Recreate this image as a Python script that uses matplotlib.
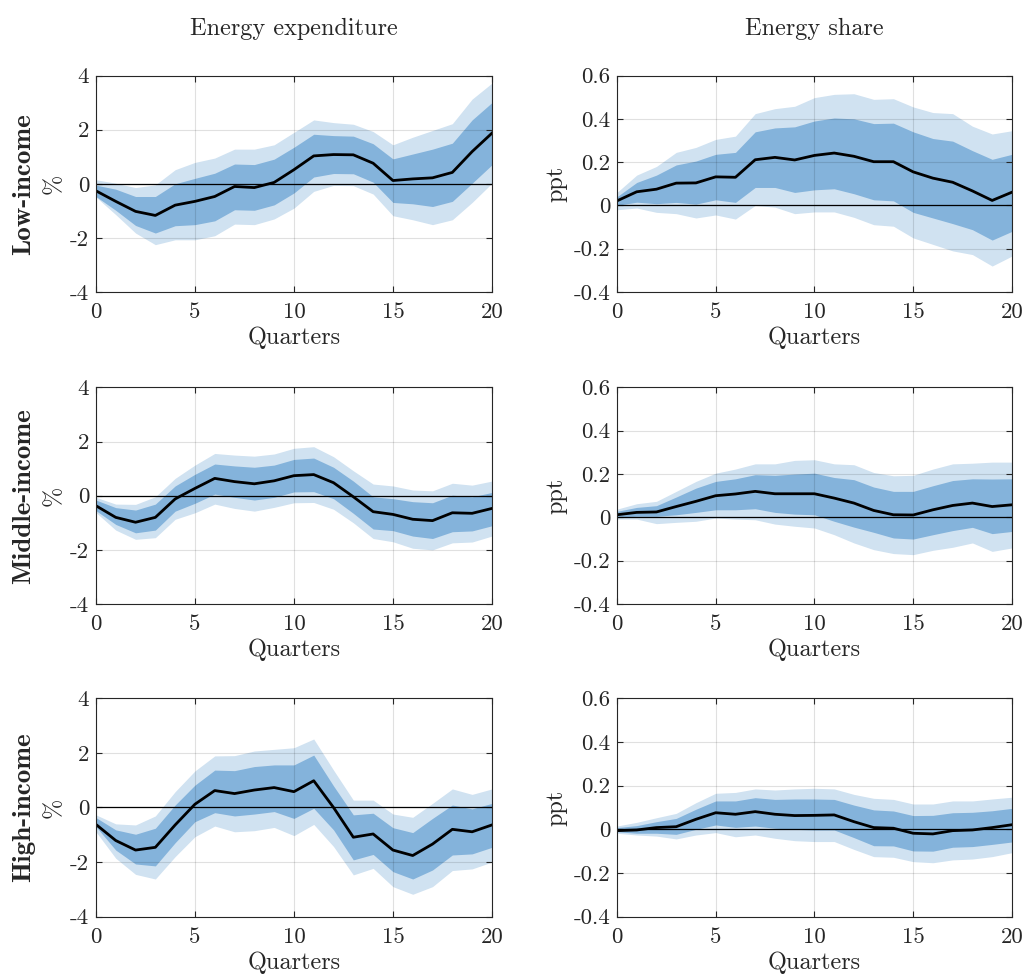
import numpy as np
import matplotlib
matplotlib.use("Agg")
import matplotlib.pyplot as plt

plt.rcParams['font.family'] = ['cmr10', 'DejaVu Serif']
plt.rcParams['axes.unicode_minus'] = False
plt.rcParams['mathtext.fontset'] = 'cm'

quarters = np.arange(21)

# energy expenditure (%), low / middle / high income
exp_low_med = [-0.26, -0.65, -1.02, -1.17, -0.79, -0.65, -0.47, -0.1, -0.14, 0.05, 0.52,
               1.03, 1.08, 1.07, 0.76, 0.12, 0.18, 0.22, 0.42, 1.19, 1.87]
exp_low_in_hi = [-0.05, -0.2, -0.47, -0.47, 0.0, 0.2, 0.39, 0.73, 0.71, 0.91, 1.35,
                 1.83, 1.78, 1.76, 1.48, 0.92, 1.1, 1.28, 1.5, 2.36, 3.0]
exp_low_in_lo = [-0.47, -0.98, -1.54, -1.82, -1.55, -1.51, -1.37, -0.96, -0.98, -0.78, -0.34,
                 0.25, 0.38, 0.37, 0.06, -0.69, -0.74, -0.84, -0.65, 0.02, 0.7]
exp_low_out_hi = [0.15, 0.02, -0.14, -0.04, 0.52, 0.79, 0.95, 1.28, 1.28, 1.44, 1.9,
                  2.36, 2.26, 2.2, 1.93, 1.44, 1.72, 1.97, 2.22, 3.13, 3.72]
exp_low_out_lo = [-0.49, -1.14, -1.82, -2.25, -2.07, -2.07, -1.92, -1.49, -1.51, -1.3, -0.9,
                  -0.28, -0.06, -0.07, -0.38, -1.18, -1.33, -1.51, -1.33, -0.69, 0.02]

exp_mid_med = [-0.37, -0.8, -0.98, -0.8, -0.12, 0.27, 0.64, 0.52, 0.44, 0.55, 0.74,
               0.78, 0.48, -0.04, -0.59, -0.69, -0.87, -0.92, -0.63, -0.65, -0.47]
exp_mid_in_hi = [-0.16, -0.44, -0.53, -0.31, 0.36, 0.79, 1.17, 1.1, 1.05, 1.13, 1.34,
                 1.39, 1.05, 0.54, -0.04, -0.11, -0.22, -0.26, 0.02, -0.04, 0.12]
exp_mid_in_lo = [-0.55, -1.06, -1.37, -1.27, -0.57, -0.28, 0.06, -0.06, -0.16, -0.06, 0.14,
                 0.15, -0.11, -0.65, -1.23, -1.29, -1.49, -1.58, -1.33, -1.3, -1.11]
exp_mid_out_hi = [-0.06, -0.31, -0.32, -0.04, 0.64, 1.13, 1.56, 1.5, 1.46, 1.54, 1.75,
                  1.81, 1.44, 0.92, 0.43, 0.36, 0.21, 0.18, 0.46, 0.39, 0.54]
exp_mid_out_lo = [-0.62, -1.27, -1.61, -1.55, -0.87, -0.63, -0.31, -0.47, -0.57, -0.43, -0.26,
                  -0.25, -0.5, -1.0, -1.58, -1.7, -1.94, -2.0, -1.74, -1.71, -1.49]

exp_high_med = [-0.62, -1.21, -1.56, -1.46, -0.64, 0.12, 0.62, 0.51, 0.64, 0.73, 0.58,
                0.98, 0.0, -1.09, -0.97, -1.56, -1.76, -1.34, -0.8, -0.89, -0.64]
exp_high_in_hi = [-0.37, -0.82, -0.98, -0.76, 0.09, 0.82, 1.37, 1.35, 1.5, 1.56, 1.56,
                  1.92, 0.79, -0.27, -0.21, -0.74, -0.92, -0.4, 0.09, -0.05, 0.15]
exp_high_in_lo = [-0.7, -1.56, -2.07, -2.14, -1.29, -0.52, -0.19, -0.31, -0.24, -0.15, -0.4,
                  -0.03, -0.82, -1.92, -1.72, -2.35, -2.62, -2.29, -1.74, -1.7, -1.46]
exp_high_out_hi = [-0.27, -0.6, -0.64, -0.31, 0.58, 1.34, 1.89, 1.9, 2.07, 2.13, 2.19,
                   2.51, 1.37, 0.27, 0.27, -0.24, -0.36, 0.15, 0.68, 0.48, 0.68]
exp_high_out_lo = [-0.89, -1.86, -2.45, -2.62, -1.8, -1.07, -0.68, -0.89, -0.85, -0.73, -1.03,
                   -0.62, -1.43, -2.47, -2.23, -2.9, -3.18, -2.9, -2.31, -2.25, -2.0]

# energy share (ppt)
sh_low_med = [0.021, 0.063, 0.075, 0.103, 0.104, 0.132, 0.13, 0.211, 0.222, 0.21, 0.231,
              0.242, 0.227, 0.202, 0.202, 0.155, 0.126, 0.107, 0.067, 0.023, 0.061]
sh_low_in_hi = [0.04, 0.106, 0.14, 0.187, 0.205, 0.236, 0.245, 0.34, 0.358, 0.363, 0.39,
                0.404, 0.4, 0.378, 0.38, 0.34, 0.309, 0.297, 0.253, 0.213, 0.236]
sh_low_in_lo = [0.0, 0.015, 0.008, 0.014, 0.006, 0.026, 0.014, 0.083, 0.083, 0.06, 0.072,
                0.077, 0.054, 0.026, 0.021, -0.032, -0.058, -0.084, -0.112, -0.16, -0.12]
sh_low_out_hi = [0.06, 0.14, 0.18, 0.245, 0.268, 0.305, 0.32, 0.424, 0.447, 0.458, 0.498,
                 0.513, 0.516, 0.49, 0.493, 0.455, 0.429, 0.424, 0.366, 0.33, 0.345]
sh_low_out_lo = [-0.02, -0.012, -0.032, -0.038, -0.058, -0.044, -0.063, 0.0, -0.008, -0.038, -0.03,
                 -0.03, -0.055, -0.089, -0.096, -0.15, -0.18, -0.21, -0.227, -0.28, -0.234]

sh_mid_med = [0.012, 0.023, 0.025, 0.05, 0.074, 0.1, 0.108, 0.12, 0.109, 0.109, 0.109,
              0.089, 0.066, 0.032, 0.012, 0.011, 0.035, 0.055, 0.066, 0.05, 0.058]
sh_mid_in_hi = [0.028, 0.046, 0.054, 0.094, 0.135, 0.166, 0.178, 0.197, 0.194, 0.2, 0.204,
                0.184, 0.174, 0.14, 0.12, 0.12, 0.146, 0.17, 0.178, 0.177, 0.178]
sh_mid_in_lo = [0.0, 0.005, 0.005, 0.012, 0.023, 0.035, 0.035, 0.04, 0.023, 0.015, 0.012,
                -0.018, -0.045, -0.069, -0.095, -0.1, -0.08, -0.061, -0.046, -0.075, -0.065]
sh_mid_out_hi = [0.038, 0.063, 0.074, 0.12, 0.166, 0.204, 0.223, 0.247, 0.247, 0.263, 0.266,
                 0.247, 0.243, 0.207, 0.192, 0.194, 0.223, 0.247, 0.25, 0.255, 0.255]
sh_mid_out_lo = [-0.008, -0.008, -0.029, -0.023, -0.018, -0.003, -0.008, -0.011, -0.031, -0.041, -0.049,
                 -0.08, -0.118, -0.149, -0.167, -0.172, -0.152, -0.138, -0.118, -0.157, -0.141]

sh_high_med = [-0.006, -0.003, 0.008, 0.012, 0.046, 0.076, 0.069, 0.081, 0.069, 0.063, 0.064,
               0.066, 0.035, 0.008, 0.005, -0.018, -0.021, -0.006, -0.003, 0.008, 0.021]
sh_high_in_hi = [0.008, 0.017, 0.035, 0.05, 0.092, 0.13, 0.13, 0.145, 0.137, 0.139, 0.139,
                 0.137, 0.111, 0.089, 0.084, 0.063, 0.064, 0.076, 0.078, 0.085, 0.096]
sh_high_in_lo = [-0.011, -0.018, -0.018, -0.023, 0.0, 0.02, 0.009, 0.015, 0.005, 0.0, -0.003,
                 -0.003, -0.038, -0.075, -0.076, -0.099, -0.1, -0.082, -0.079, -0.069, -0.058]
sh_high_out_hi = [0.015, 0.032, 0.053, 0.073, 0.122, 0.165, 0.169, 0.185, 0.18, 0.185, 0.188,
                  0.185, 0.16, 0.142, 0.137, 0.116, 0.116, 0.13, 0.13, 0.139, 0.147]
sh_high_out_lo = [-0.018, -0.026, -0.031, -0.044, -0.026, -0.015, -0.034, -0.026, -0.041, -0.052, -0.056,
                  -0.056, -0.092, -0.125, -0.128, -0.148, -0.153, -0.14, -0.136, -0.125, -0.107]

col_titles = ['Energy expenditure', 'Energy share']
row_labels = ['Low-income', 'Middle-income', 'High-income']
ylabels = ['%', 'ppt']
x_ticks = [0, 5, 10, 15, 20]
exp_ticks = [-4, -2, 0, 2, 4]
exp_ticklabels = ['-4', '-2', '0', '2', '4']
sh_ticks = [-0.4, -0.2, 0, 0.2, 0.4, 0.6]
sh_ticklabels = ['-0.4', '-0.2', '0', '0.2', '0.4', '0.6']

panels = [
    [(exp_low_med, exp_low_in_lo, exp_low_in_hi, exp_low_out_lo, exp_low_out_hi),
     (sh_low_med, sh_low_in_lo, sh_low_in_hi, sh_low_out_lo, sh_low_out_hi)],
    [(exp_mid_med, exp_mid_in_lo, exp_mid_in_hi, exp_mid_out_lo, exp_mid_out_hi),
     (sh_mid_med, sh_mid_in_lo, sh_mid_in_hi, sh_mid_out_lo, sh_mid_out_hi)],
    [(exp_high_med, exp_high_in_lo, exp_high_in_hi, exp_high_out_lo, exp_high_out_hi),
     (sh_high_med, sh_high_in_lo, sh_high_in_hi, sh_high_out_lo, sh_high_out_hi)],
]

light = '#d0e2f1'
dark = '#84b3db'
txt = '#262626'

fig = plt.figure(figsize=(10.24, 9.76), dpi=100)
lefts = [0.0937, 0.6025]
widths = [0.3867, 0.3857]
bottoms = [0.7008, 0.3811, 0.0608]
heights = [0.2218, 0.222, 0.2237]

for r in range(3):
    for c in range(2):
        ax = fig.add_axes([lefts[c], bottoms[r], widths[c], heights[r]])
        med, in_lo, in_hi, out_lo, out_hi = panels[r][c]
        ax.fill_between(quarters, out_lo, out_hi, color=light, lw=0, zorder=1)
        ax.fill_between(quarters, in_lo, in_hi, color=dark, lw=0, zorder=2)
        ax.axhline(0, color='black', lw=0.9, zorder=3)
        ax.plot(quarters, med, color='black', lw=2.0, zorder=4)
        ax.set_xlim(0, 20)
        ax.set_xticks(x_ticks)
        ax.set_xticklabels([str(t) for t in x_ticks])
        if c == 0:
            ax.set_ylim(-4, 4)
            ax.set_yticks(exp_ticks)
            ax.set_yticklabels(exp_ticklabels)
        else:
            ax.set_ylim(-0.4, 0.6)
            ax.set_yticks(sh_ticks)
            ax.set_yticklabels(sh_ticklabels)
        ax.grid(True, color='#000000', alpha=0.12, lw=0.8, zorder=5)
        ax.set_axisbelow(False)
        ax.tick_params(direction='in', top=True, right=True, length=4,
                       width=0.8, labelsize=16.5, color=txt, labelcolor=txt)
        ax.tick_params(axis='x', pad=7.5)
        ax.tick_params(axis='y', pad=5)
        for s in ax.spines.values():
            s.set_linewidth(0.8)
            s.set_color(txt)
            s.set_zorder(6)
        ax.set_xlabel('Quarters', fontsize=17.5, labelpad=3.5, color=txt)
        ax.set_ylabel(ylabels[c], fontsize=17.5, labelpad=4, color=txt)
        if r == 0:
            ax.set_title(col_titles[c], fontsize=17.5, pad=29, color=txt)
        if c == 0:
            ax.text(-0.182, 0.5, row_labels[r], transform=ax.transAxes,
                    rotation=90, ha='center', va='center', fontsize=19.5,
                    family='cmb10', color=txt)

fig.savefig('out.png', dpi=100)
